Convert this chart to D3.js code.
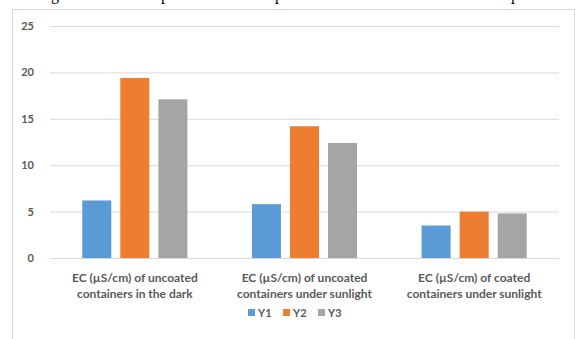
<!DOCTYPE html>
<html>
<head>
<meta charset="utf-8">
<script src="https://cdn.jsdelivr.net/npm/d3@7/dist/d3.min.js"></script>
<style>
  html, body { margin: 0; padding: 0; background: #fff; }
  svg { display: block; }
</style>
</head>
<body>
<svg id="chart" width="576" height="339"></svg>
<script>
const categories = [
  ["EC (µS/cm) of uncoated", "containers in the dark"],
  ["EC (µS/cm) of uncoated", "containers under sunlight"],
  ["EC (µS/cm) of coated", "containers under sunlight"]
];
const seriesNames = ["Y1", "Y2", "Y3"];
const Y1 = [6.2, 5.8, 3.5];
const Y2 = [19.4, 14.2, 5.0];
const Y3 = [17.1, 12.4, 4.8];
const yTicks = [0, 5, 10, 15, 20, 25];
const colors = ["#5b9bd5", "#ed7d31", "#a5a5a5"];

const seriesValues = [Y1, Y2, Y3];
const svg = d3.select("#chart");

// fragment of the text line above the figure (only descenders visible)
const frag = [["g", 55], ["p", 165], ["p", 279], ["p", 515]];
svg.selectAll("text.frag").data(frag).join("text")
  .attr("class", "frag")
  .attr("x", d => d[1]).attr("y", -0.5)
  .attr("font-family", "Liberation Serif").attr("font-size", 16)
  .attr("fill", "#000").attr("text-anchor", "middle")
  .text(d => d[0]);

// chart frame
svg.append("path")
  .attr("d", "M12.5,339 V9.5 H574.5 V339")
  .attr("fill", "none").attr("stroke", "#d9d9d9").attr("stroke-width", 1);

const plot = { left: 50, right: 559, top: 26, bottom: 258 };

const x0 = d3.scaleBand()
  .domain(d3.range(categories.length))
  .range([plot.left, plot.right])
  .paddingInner(0.38).paddingOuter(0.19);

const x1 = d3.scaleBand()
  .domain(d3.range(seriesNames.length))
  .range([0, x0.bandwidth()])
  .paddingInner(0.237);

const y = d3.scaleLinear().domain([0, 25]).range([plot.bottom, plot.top]);

// gridlines
const yAxis = d3.axisLeft(y).tickValues(yTicks)
  .tickSize(-(plot.right - plot.left)).tickPadding(16).tickFormat(d3.format("d"));
const gy = svg.append("g")
  .attr("transform", `translate(${plot.left},0)`)
  .call(yAxis);
gy.select(".domain").remove();
gy.selectAll(".tick line").attr("stroke", "#d9d9d9").attr("stroke-width", 1);
gy.selectAll(".tick text")
  .attr("font-family", "Lato, 'Open Sans', sans-serif")
  .attr("font-size", 11).attr("font-weight", "bold")
  .attr("fill", "#595959");

// bars
const groups = svg.append("g").selectAll("g")
  .data(categories.map((c, i) => i))
  .join("g")
  .attr("transform", i => `translate(${x0(i)},0)`);

groups.selectAll("rect")
  .data(i => seriesValues.map((s, k) => ({ k, v: s[i] })))
  .join("rect")
  .attr("x", d => x1(d.k))
  .attr("width", x1.bandwidth())
  .attr("y", d => y(d.v))
  .attr("height", d => y(0) - y(d.v))
  .attr("fill", d => colors[d.k]);

// category labels
const labels = svg.append("g").selectAll("text")
  .data(categories)
  .join("text")
  .attr("text-anchor", "middle")
  .attr("font-family", "Lato, 'Open Sans', sans-serif")
  .attr("font-size", 12).attr("font-weight", "bold")
  .attr("fill", "#595959")
  .attr("transform", (d, i) => `translate(${x0(i) + x0.bandwidth() / 2},0)`);
labels.selectAll("tspan")
  .data(d => d)
  .join("tspan")
  .attr("x", 0)
  .attr("y", (d, j) => 282 + j * 16)
  .text(d => d);

// legend
const legendX = [248, 283, 318];
const lg = svg.append("g").selectAll("g")
  .data(seriesNames)
  .join("g")
  .attr("transform", (d, i) => `translate(${legendX[i]},308)`);
lg.append("rect").attr("width", 7).attr("height", 7).attr("y", 1)
  .attr("fill", (d, i) => colors[i]);
lg.append("text").attr("x", 10).attr("y", 8.5)
  .attr("font-family", "Lato, 'Open Sans', sans-serif")
  .attr("font-size", 11).attr("font-weight", "bold")
  .attr("fill", "#595959")
  .text(d => d);
</script>
</body>
</html>
